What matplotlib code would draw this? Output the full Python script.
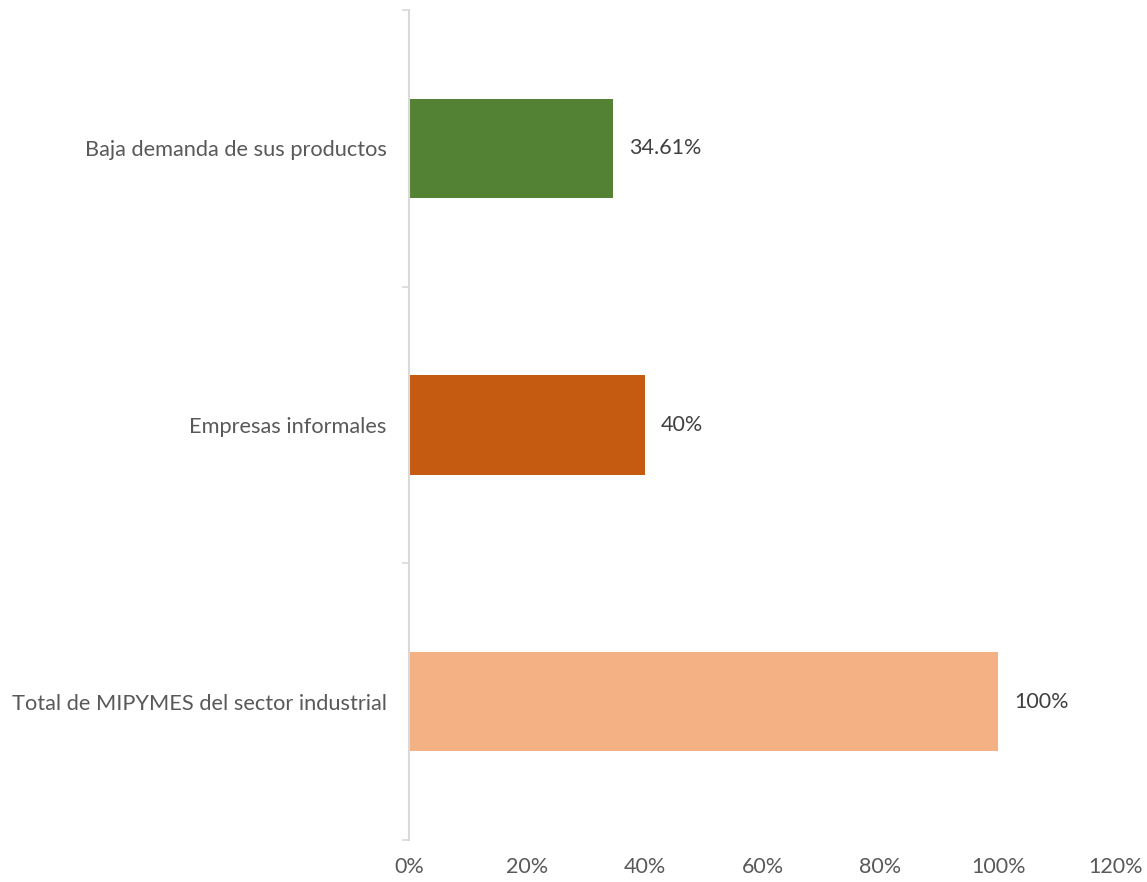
import matplotlib.pyplot as plt
from matplotlib.ticker import FuncFormatter

plt.rcParams['font.family'] = ['Lato', 'DejaVu Sans']

# datos (de abajo hacia arriba)
categorias = ["Total de MIPYMES del sector industrial",
              "Empresas informales",
              "Baja demanda de sus productos"]
valores = [1.00, 0.40, 0.3461]
etiquetas = ["100%", "40%", "34.61%"]
colores = ["#F4B183", "#C55A11", "#548235"]
ticks_x = [0, 0.2, 0.4, 0.6, 0.8, 1.0, 1.2]

fig = plt.figure(figsize=(11.47, 8.82), dpi=100)
ax = fig.add_axes([409 / 1147, 1 - 840 / 882, (1116 - 409) / 1147, 830 / 882])

pos = range(len(categorias))
ax.barh(pos, valores, height=0.36, color=colores)

for p, v, t in zip(pos, valores, etiquetas):
    ax.annotate(t, (v, p), xytext=(11.5, 0), textcoords='offset points',
                va='center', ha='left', fontsize=15.5, color='#404040')

ax.set_xlim(0, 1.2)
ax.set_ylim(-0.5, 2.5)
ax.set_xticks(ticks_x)
ax.xaxis.set_major_formatter(FuncFormatter(lambda x, _: f"{x * 100:.0f}%"))
ax.tick_params(axis='x', length=0, pad=12, labelsize=15.5, labelcolor='#595959')

# marcas del eje vertical entre categorias
ax.set_yticks([-0.5, 0.5, 1.5, 2.5])
ax.set_yticklabels([])
ax.set_yticks(list(pos), minor=True)
ax.set_yticklabels(categorias, minor=True)
ax.tick_params(axis='y', which='major', length=5, color='#d9d9d9', width=1.2)
ax.tick_params(axis='y', which='minor', length=0, pad=16, labelsize=15.7, labelcolor='#595959')

for s in ['top', 'right', 'bottom']:
    ax.spines[s].set_visible(False)
ax.spines['left'].set_color('#d9d9d9')
ax.spines['left'].set_linewidth(1.5)

fig.savefig('out.png', dpi=100)
